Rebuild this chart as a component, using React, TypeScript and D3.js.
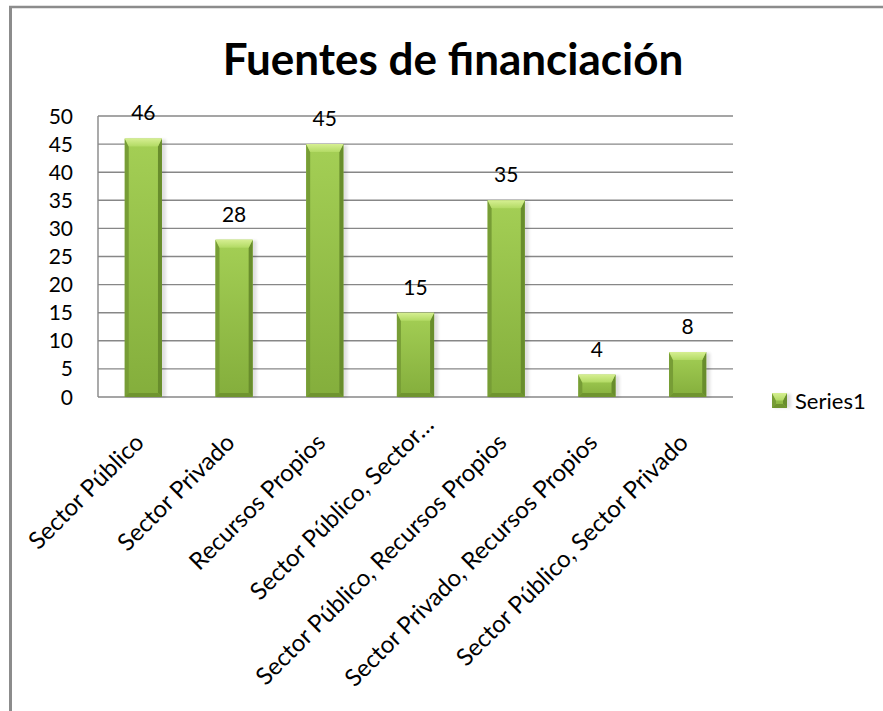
import React from "react";
import * as d3 from "d3";

const categories: string[] = [
  "Sector Público",
  "Sector Privado",
  "Recursos Propios",
  "Sector Público, Sector…",
  "Sector Público, Recursos Propios",
  "Sector Privado, Recursos Propios",
  "Sector Público, Sector Privado",
];
const values: number[] = [46, 28, 45, 15, 35, 4, 8];
const yTicks: number[] = [0, 5, 10, 15, 20, 25, 30, 35, 40, 45, 50];
const seriesName = "Series1";
const title = "Fuentes de financiación";

const W = 883;
const H = 711;
const FONT = "Lato, 'Open Sans', sans-serif";

export default function App() {
  const plot = { left: 98, right: 733, top: 116, bottom: 397 };
  const x = d3
    .scaleBand<string>()
    .domain(categories)
    .range([plot.left, plot.right])
    .paddingInner(0.59)
    .paddingOuter(0.295);
  const y = d3.scaleLinear().domain([0, 50]).range([plot.bottom, plot.top]);

  const bevel = (bx: number, by: number, bw: number, bh: number, key: string) => {
    const b = Math.min(4, bh / 2, bw / 2);
    const tb = Math.min(8, bh / 2);
    return (
      <g key={key}>
        <rect x={bx + 2} y={by + 1} width={bw + 2} height={bh - 1} fill="#000" opacity={0.12} filter="url(#blur)" />
        <rect x={bx} y={by} width={bw} height={bh} fill="url(#body)" />
        <polygon
          points={`${bx},${by} ${bx + b},${by + tb} ${bx + b},${by + bh - b} ${bx},${by + bh}`}
          fill="#779d36"
        />
        <polygon
          points={`${bx + bw},${by} ${bx + bw - b},${by + tb} ${bx + bw - b},${by + bh - b} ${bx + bw},${by + bh}`}
          fill="#688d2c"
        />
        <polygon
          points={`${bx},${by} ${bx + bw},${by} ${bx + bw - b},${by + tb} ${bx + b},${by + tb}`}
          fill="url(#topb)"
        />
        <polygon
          points={`${bx},${by + bh} ${bx + bw},${by + bh} ${bx + bw - b},${by + bh - b} ${bx + b},${by + bh - b}`}
          fill="#6f942f"
        />
      </g>
    );
  };

  return (
    <svg
      width={W}
      height={H}
      style={{ position: "absolute", left: 0, top: 0, background: "#fff" }}
      fontFamily={FONT}
    >
      <defs>
        <linearGradient id="body" x1="0" y1="0" x2="0" y2="1">
          <stop offset="0%" stopColor="#a4cf55" />
          <stop offset="100%" stopColor="#84ae3c" />
        </linearGradient>
        <linearGradient id="topb" x1="0" y1="0" x2="0" y2="1">
          <stop offset="0%" stopColor="#d6ef92" />
          <stop offset="100%" stopColor="#b2da64" />
        </linearGradient>
        <filter id="blur" x="-20%" y="-20%" width="140%" height="140%">
          <feGaussianBlur stdDeviation="1.5" />
        </filter>
      </defs>
      <rect x={0} y={0} width={W} height={H} fill="#fff" />
      {/* outer frame */}
      <line x1={9} y1={7} x2={W} y2={7} stroke="#8c8c8c" strokeWidth={2.5} />
      <line x1={10.5} y1={6} x2={10.5} y2={H} stroke="#8c8c8c" strokeWidth={3} />

      {/* title */}
      <text x={453} y={75} textAnchor="middle" fontSize={44} fontWeight={700} fill="#000">
        {title}
      </text>

      {/* gridlines */}
      {yTicks.map((t) => (
        <line
          key={"g" + t}
          x1={plot.left}
          x2={plot.right}
          y1={y(t)}
          y2={y(t)}
          stroke="#878787"
          strokeWidth={1.4}
        />
      ))}
      <line x1={plot.left} x2={plot.left} y1={plot.top} y2={plot.bottom} stroke="#878787" strokeWidth={1.4} />

      {/* y tick labels */}
      {yTicks.map((t) => (
        <text key={"t" + t} x={73} y={y(t)} dy="0.36em" textAnchor="end" fontSize={21} fill="#000">
          {t}
        </text>
      ))}

      {/* bars */}
      {values.map((v, i) => {
        const bx = x(categories[i])!;
        const bw = x.bandwidth();
        return bevel(bx, y(v), bw, y(0) - y(v), "b" + i);
      })}

      {/* data labels */}
      {values.map((v, i) => (
        <text
          key={"l" + i}
          x={x(categories[i])! + x.bandwidth() / 2}
          y={y(v) - 18}
          textAnchor="middle"
          fontSize={21}
          fill="#000"
        >
          {v}
        </text>
      ))}

      {/* category labels */}
      {categories.map((c, i) => {
        const cx = x(c)! + x.bandwidth() / 2 + 2;
        const cy = 444;
        const shift = c.endsWith("…") ? 25 : 0;
        const ax = cx + shift * Math.SQRT1_2;
        const ay = cy - shift * Math.SQRT1_2;
        return (
          <text
            key={"c" + i}
            transform={`translate(${ax},${ay}) rotate(-45)`}
            textAnchor="end"
            fontSize={24}
            fill="#000"
          >
            {c}
          </text>
        );
      })}

      {/* legend */}
      {bevel(772, 393, 15, 15, "legend")}
      <text x={795} y={409} fontSize={22} fill="#000">
        {seriesName}
      </text>
    </svg>
  );
}
